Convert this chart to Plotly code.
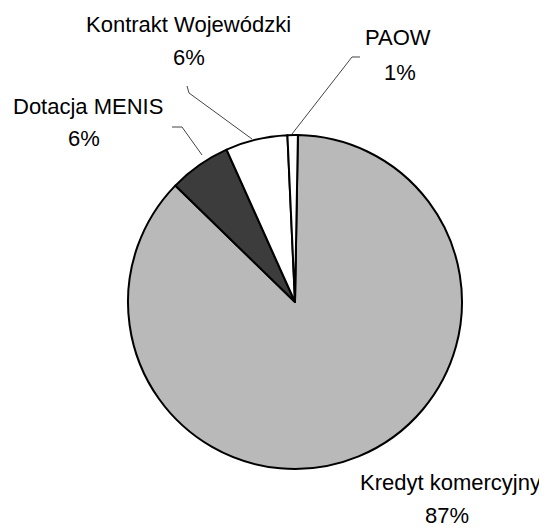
import plotly.graph_objects as go

# Data
categories = ["Kredyt komercyjny", "Dotacja MENIS", "Kontrakt Wojewódzki", "PAOW"]
values = [87, 6, 6, 1]
pct_labels = ["87%", "6%", "6%", "1%"]
colors = ["#b9b9b9", "#3c3c3c", "#ffffff", "#ffffff"]

# page offset (browser body margin) and figure size
OFF = 8
W, H = 547 - OFF, 528 - OFF
cx, cy, r = 295, 302, 167


def px(x):
    return (x - OFF) / W


def py(y):
    return 1 - (y - OFF) / H


fig = go.Figure(go.Pie(
    labels=categories,
    values=values,
    sort=False,
    direction="clockwise",
    rotation=1,
    marker=dict(colors=colors, line=dict(color="#000000", width=2)),
    textinfo="none",
    hoverinfo="label+percent",
    showlegend=False,
    domain=dict(x=[px(cx - r), px(cx + r)], y=[py(cy + r), py(cy - r)]),
))

font = dict(family="Liberation Sans, Arial, sans-serif", size=22, color="#000000")

# label placements (name line, percent line) in reference pixels
label_pos = {
    "Kontrakt Wojewódzki": ((188, 24), (189, 58)),
    "Dotacja MENIS": ((88, 106), (84, 138)),
    "PAOW": ((398, 37), (400, 72)),
    "Kredyt komercyjny": ((450, 482), (447, 515)),
}

annotations = []
for name, pct in zip(categories, pct_labels):
    (x1, y1), (x2, y2) = label_pos[name]
    annotations.append(dict(text=name, x=px(x1), y=py(y1), xref="paper", yref="paper",
                            showarrow=False, font=font, xanchor="center", yanchor="middle"))
    annotations.append(dict(text=pct, x=px(x2), y=py(y2), xref="paper", yref="paper",
                            showarrow=False, font=font, xanchor="center", yanchor="middle"))

leaders = [
    [(187, 86), (189, 93), (252, 139)],
    [(172, 127), (182, 127), (202, 155)],
    [(360, 57), (352, 57), (292, 134)],
]
shapes = []
for pts in leaders:
    path = "M " + " L ".join(f"{px(x):.5f},{py(y):.5f}" for x, y in pts)
    shapes.append(dict(type="path", path=path, xref="paper", yref="paper",
                       line=dict(color="#444444", width=1)))

fig.update_layout(
    width=W, height=H,
    margin=dict(l=0, r=0, t=0, b=0),
    paper_bgcolor="#ffffff",
    plot_bgcolor="#ffffff",
    annotations=annotations,
    shapes=shapes,
)

fig.write_html("out.html")
